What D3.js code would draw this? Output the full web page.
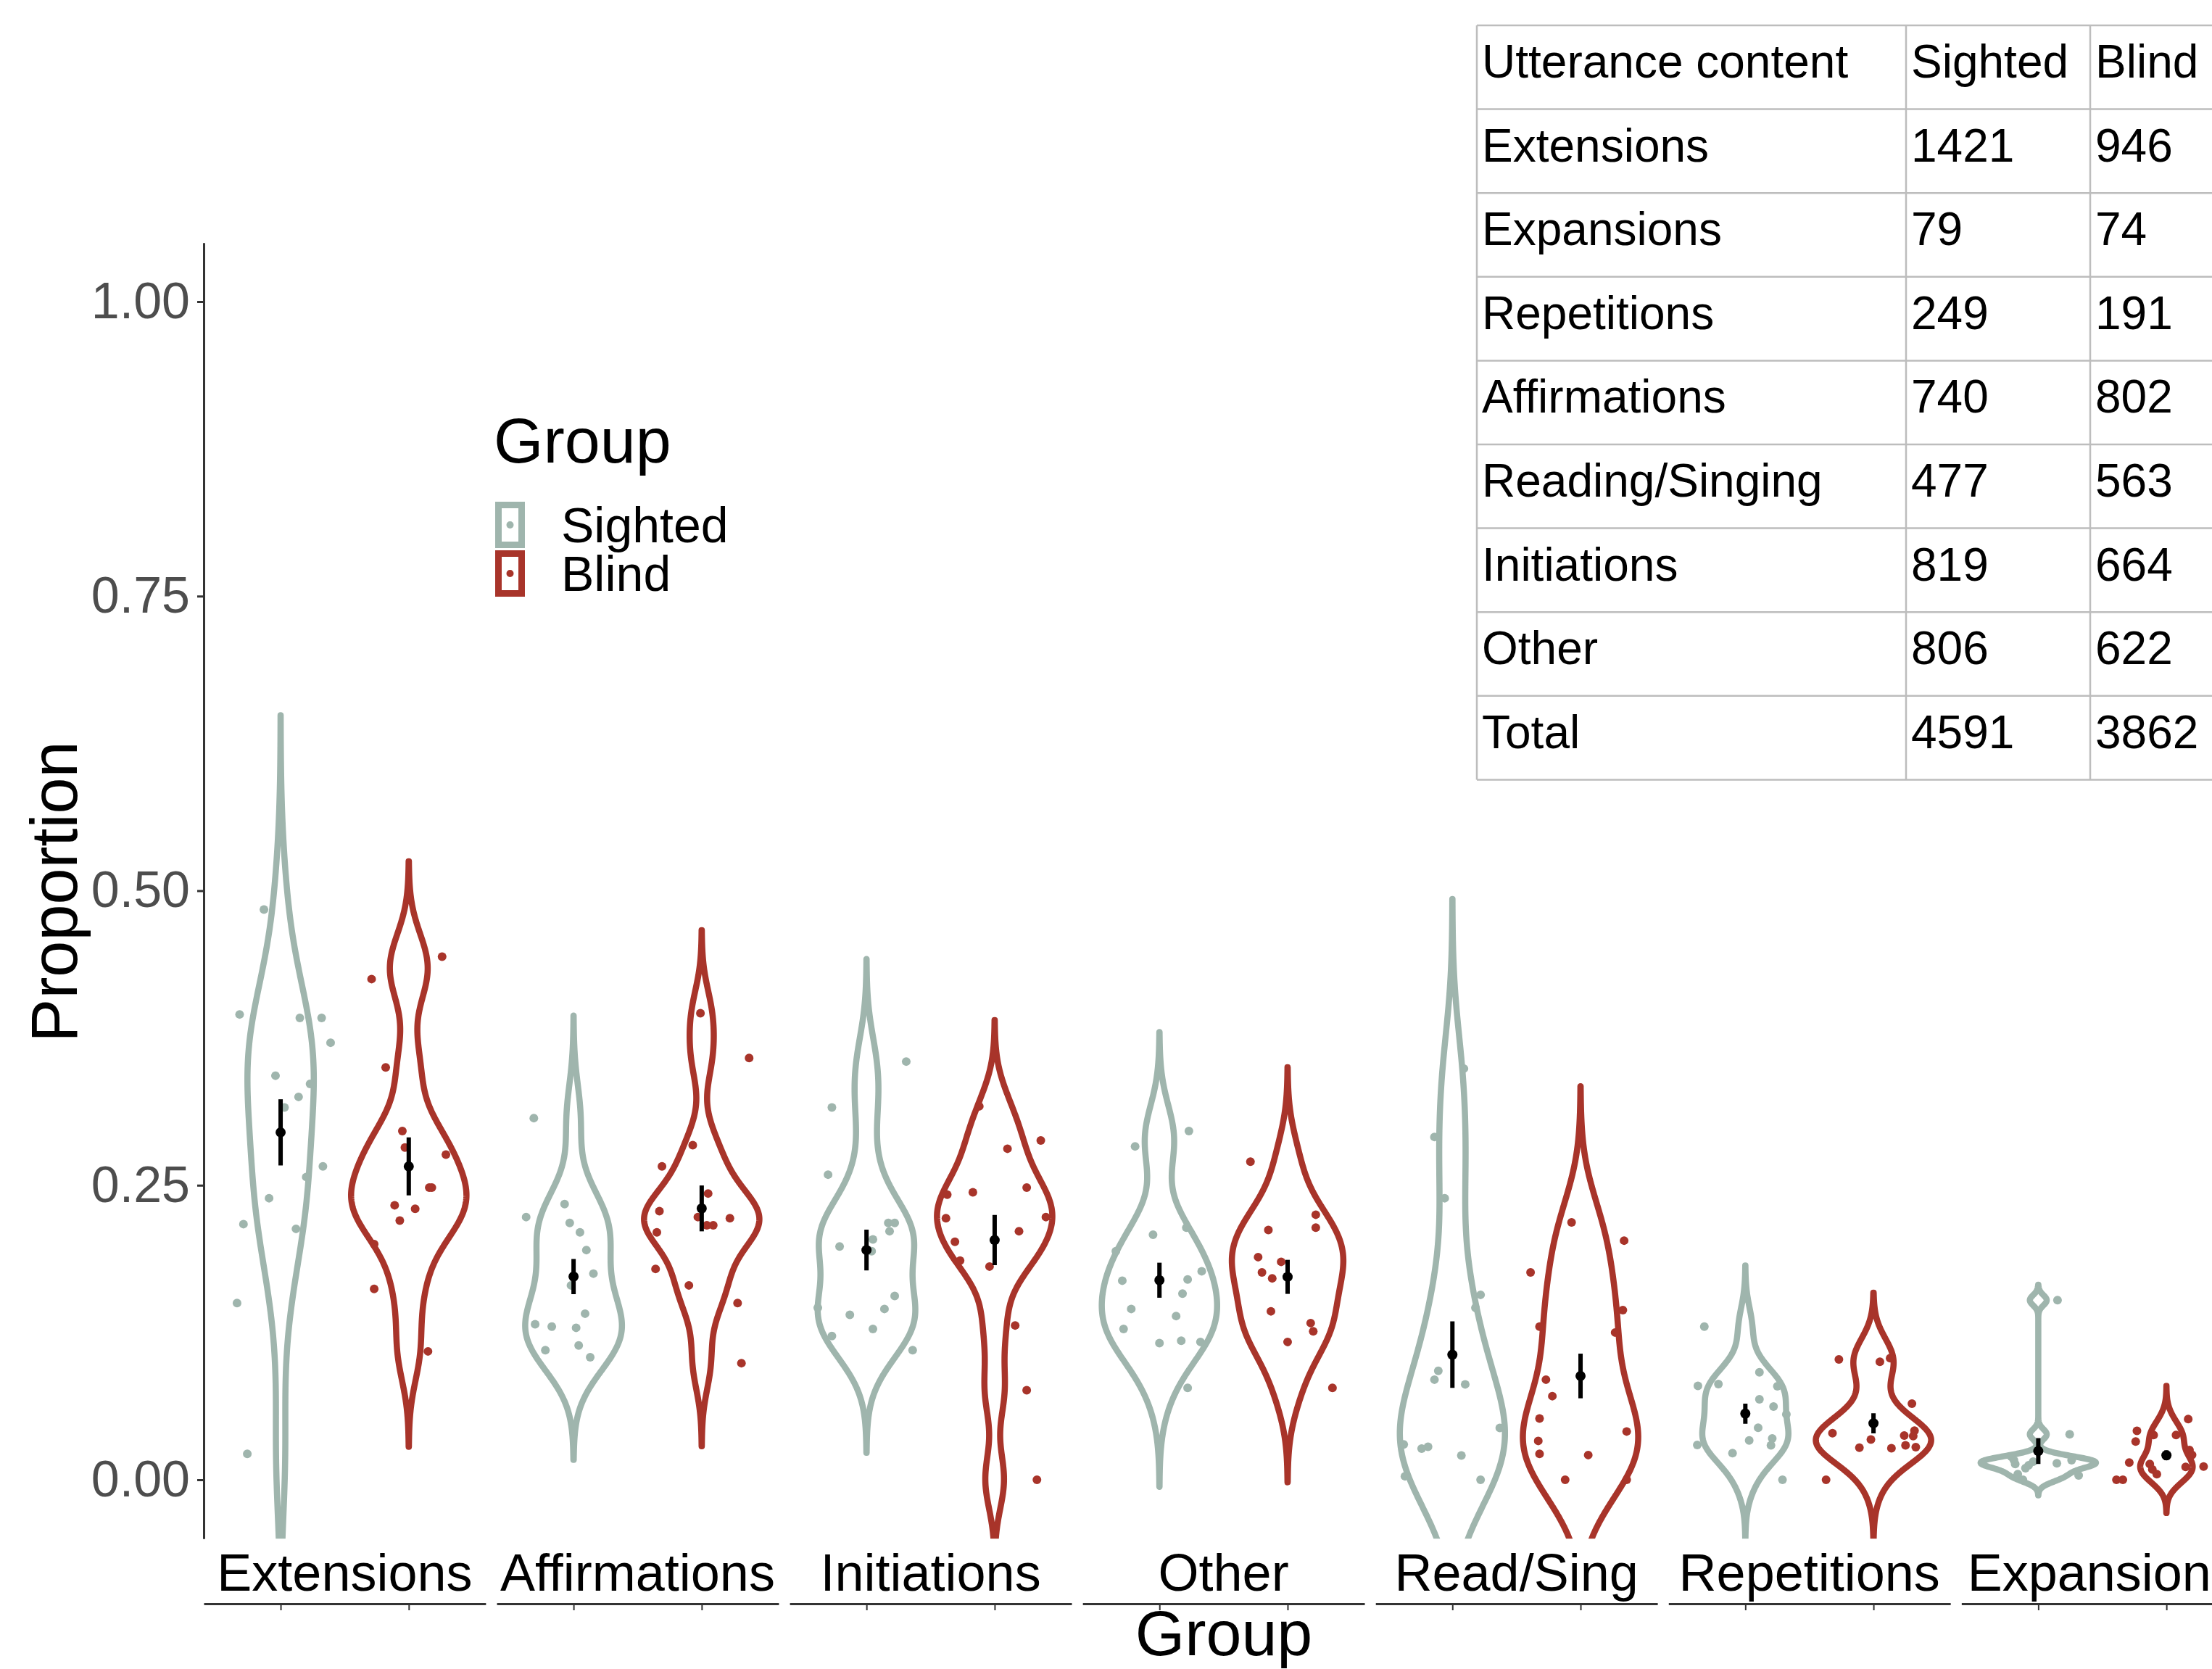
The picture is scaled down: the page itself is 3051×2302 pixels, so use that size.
<!DOCTYPE html>
<html>
<head>
<meta charset="utf-8">
<script src="https://cdn.jsdelivr.net/npm/d3@7"></script>
<style>
body { margin:0; background:#fff; }
text { font-family: "Liberation Sans", Arial, Helvetica, sans-serif; }
</style>
</head>
<body>
<div id="chart"></div>
<script>

// ---------- data ----------
var categories = ["Extensions","Affirmations","Initiations","Other","Read/Sing","Repetitions","Expansions"];
var groups = ["Sighted","Blind"];
var yTicks = [0, 0.25, 0.5, 0.75, 1];

// each child: [proportion, horizontal jitter in category units]
var sightedPoints = [
  [[0.484,-0.13],[0.395,-0.32],[0.392,0.15],[0.392,0.32],[0.371,0.39],[0.343,-0.04],[0.336,0.23],[0.325,0.14],[0.316,0.03],[0.266,0.33],[0.257,0.2],[0.239,-0.09],[0.217,-0.29],[0.213,0.12],[0.150,-0.34],[0.022,-0.26]],
  [[0.307,-0.31],[0.234,-0.07],[0.223,-0.37],[0.218,-0.03],[0.210,0.05],[0.195,0.10],[0.175,0.155],[0.165,-0.02],[0.141,0.09],[0.132,-0.30],[0.130,-0.17],[0.129,0.02],[0.114,0.04],[0.110,-0.22],[0.104,0.13]],
  [[0.355,0.31],[0.316,-0.27],[0.259,-0.30],[0.218,0.17],[0.218,0.22],[0.211,0.18],[0.204,0.05],[0.198,-0.21],[0.194,0.04],[0.156,0.22],[0.146,-0.38],[0.145,0.14],[0.140,-0.13],[0.128,0.05],[0.122,-0.27],[0.110,0.36]],
  [[0.296,0.23],[0.283,-0.19],[0.214,0.21],[0.208,-0.05],[0.194,-0.34],[0.177,0.33],[0.170,0.22],[0.169,-0.29],[0.158,0.18],[0.145,-0.22],[0.139,0.13],[0.128,-0.28],[0.118,0.17],[0.117,0.32],[0.116,0.0],[0.078,0.22]],
  [[0.349,0.09],[0.291,-0.14],[0.239,-0.06],[0.157,0.22],[0.146,0.18],[0.0925,-0.11],[0.085,-0.14],[0.081,0.10],[0.044,0.37],[0.030,-0.38],[0.028,-0.19],[0.0265,-0.24],[0.0206,0.07],[0.003,-0.37],[0.0,0.22]],
  [[0.130,-0.32],[0.0913,0.11],[0.0812,-0.21],[0.0797,-0.37],[0.0794,0.25],[0.0683,0.11],[0.0622,0.22],[0.0556,0.32],[0.0442,0.10],[0.0351,0.21],[0.0334,0.03],[0.0295,-0.375],[0.0293,0.20],[0.0226,-0.10],[0.0,0.29]],
  [[0.1524,0.15],[0.0386,0.245],[0.0195,-0.21],[0.0166,-0.19],[0.0166,0.26],[0.0154,-0.04],[0.014,0.145],[0.0134,-0.18],[0.0123,-0.075],[0.0098,-0.10],[0.0047,-0.16],[0.0037,0.315],[0.0,-0.12]]
];
var blindPoints = [
  [[0.444,0.26],[0.425,-0.29],[0.350,-0.18],[0.296,-0.05],[0.282,-0.03],[0.276,0.29],[0.248,0.16],[0.248,0.18],[0.233,-0.11],[0.230,0.05],[0.220,-0.07],[0.200,-0.27],[0.162,-0.27],[0.109,0.15]],
  [[0.396,-0.01],[0.358,0.37],[0.284,-0.07],[0.266,-0.31],[0.243,0.05],[0.228,-0.33],[0.223,-0.03],[0.222,0.22],[0.216,0.04],[0.216,0.09],[0.210,-0.35],[0.179,-0.36],[0.165,-0.10],[0.150,0.28],[0.099,0.31]],
  [[0.317,-0.12],[0.288,0.36],[0.281,0.10],[0.248,0.25],[0.244,-0.17],[0.242,-0.37],[0.223,0.40],[0.222,-0.38],[0.211,0.19],[0.202,-0.31],[0.186,-0.27],[0.181,-0.04],[0.131,0.16],[0.076,0.25],[0.0,0.33]],
  [[0.270,-0.29],[0.225,0.22],[0.214,0.22],[0.212,-0.15],[0.189,-0.23],[0.185,-0.05],[0.176,-0.20],[0.171,-0.12],[0.143,-0.13],[0.133,0.18],[0.126,0.20],[0.117,0.0],[0.078,0.35]],
  [[0.2185,-0.07],[0.203,0.34],[0.176,-0.39],[0.144,0.33],[0.130,-0.32],[0.125,0.27],[0.085,-0.27],[0.071,-0.22],[0.052,-0.32],[0.041,0.36],[0.033,-0.33],[0.022,-0.32],[0.021,0.06],[0.0,-0.12],[0.0,0.36]],
  [[0.1032,0.13],[0.1022,-0.27],[0.1001,0.05],[0.0646,0.30],[0.0417,0.32],[0.0396,-0.32],[0.0375,0.24],[0.0371,0.31],[0.0341,-0.02],[0.0293,0.25],[0.0277,0.33],[0.0273,-0.11],[0.0267,0.14],[0.0,-0.37]],
  [[0.0515,0.17],[0.0416,-0.23],[0.038,-0.10],[0.038,0.075],[0.0324,-0.24],[0.0252,0.18],[0.0211,0.20],[0.0146,-0.29],[0.0134,-0.13],[0.0113,0.29],[0.0109,0.15],[0.0088,-0.11],[0.0047,-0.075],[0.0,-0.39],[0.0,-0.34]]
];
// kernel bandwidths of the violins
var sightedBw = [0.055, 0.029, 0.029, 0.028, 0.048, 0.0173, 0.0044];
var blindBw   = [0.027, 0.0235, 0.0244, 0.0267, 0.0385, 0.0185, 0.0094];

// table
var tableHeader = ["Utterance content","Sighted","Blind"];
var tableContent = ["Extensions","Expansions","Repetitions","Affirmations","Reading/Singing","Initiations","Other","Total"];
var tableSighted = [1421, 79, 249, 740, 477, 819, 806, 4591];
var tableBlind = [946, 74, 191, 802, 563, 664, 622, 3862];

// ---------- setup ----------
var W = 3051, H = 2302;
var colors = { Sighted: "#9fb5ad", Blind: "#a8342a" };
var top_ = 334.75, bottom_ = 2122.25;

var svg = d3.select("#chart")
            .append("svg")
            .attr("width", W)
            .attr("height", H);

svg.append("rect").attr("width", W).attr("height", H).attr("fill", "#fff");

var y = d3.scaleLinear()
          .domain([-0.05, 1.05])
          .range([bottom_, top_]);

var facetX = d3.scaleBand()
               .domain(categories)
               .range([281, 3094.2])
               .paddingInner(0.0376)
               .paddingOuter(0);

var innerX = d3.scaleLinear()
               .domain([0.4, 2.6])
               .range([0, facetX.bandwidth()]);

var catW = innerX(1) - innerX(0);

function kde(values, bw) {
    var n = values.length,
        lo = d3.min(values) - 3 * bw,
        hi = d3.max(values) + 3 * bw;
    return d3.range(512).map(function(i) {
        var t = lo + (hi - lo) * i / 511;
        var s = d3.sum(values, function(v) { var u = (t - v) / bw; return Math.exp(-0.5 * u * u); });
        return [t, s / (n * bw * Math.sqrt(2 * Math.PI))];
    });
}

var line = d3.line();

// ---------- y axis ----------
var yAxis = d3.axisLeft(y)
              .tickValues(yTicks)
              .tickFormat(d3.format(".2f"))
              .tickSize(9)
              .tickSizeOuter(0)
              .tickPadding(10);

var yAxisGroup = svg.append("g")
                    .attr("transform", "translate(281,0)")
                    .call(yAxis);
yAxisGroup.select(".domain").attr("stroke", "#333").attr("stroke-width", 3);
yAxisGroup.selectAll(".tick line").attr("stroke", "#333").attr("stroke-width", 3);
yAxisGroup.selectAll(".tick text")
          .attr("font-size", 70)
          .attr("fill", "#4d4d4d")
          .attr("font-family", "Liberation Sans, Arial, sans-serif");

// ---------- facets ----------
categories.forEach(function(cat, i) {
    var g = svg.append("g")
               .attr("transform", "translate(" + facetX(cat) + ",0)");

    g.append("clipPath")
     .attr("id", "clip" + i)
     .append("rect")
     .attr("x", -5).attr("y", top_)
     .attr("width", facetX.bandwidth() + 10)
     .attr("height", bottom_ - top_);

    var sets = [sightedPoints[i], blindPoints[i]];
    var bws = [sightedBw[i], blindBw[i]];
    var dens = sets.map(function(s, k) { return kde(s.map(function(d) { return d[0]; }), bws[k]); });
    var maxD = d3.max(dens, function(dd) { return d3.max(dd, function(d) { return d[1]; }); });

    var plot = g.append("g").attr("clip-path", "url(#clip" + i + ")");

    groups.forEach(function(grp, k) {
        var cx = innerX(k + 1);
        var dd = dens[k];
        var right = dd.map(function(d) { return [cx + 0.45 * catW * d[1] / maxD, y(d[0])]; });
        var left = dd.slice().reverse().map(function(d) { return [cx - 0.45 * catW * d[1] / maxD, y(d[0])]; });

        plot.append("path")
            .attr("class", "violin " + grp)
            .attr("d", line(right.concat(left)) + "Z")
            .attr("fill", "none")
            .attr("stroke", colors[grp])
            .attr("stroke-width", 8.5)
            .attr("stroke-linejoin", "round");
    });

    groups.forEach(function(grp, k) {
        var cx = innerX(k + 1);
        plot.selectAll(".pt" + k)
            .data(sets[k])
            .enter()
            .append("circle")
            .attr("cx", function(d) { return innerX(k + 1 + d[1]); })
            .attr("cy", function(d) { return y(d[0]); })
            .attr("r", 6)
            .attr("fill", colors[grp]);

        // mean +/- standard error
        var vals = sets[k].map(function(d) { return d[0]; });
        var m = d3.mean(vals), se = d3.deviation(vals) / Math.sqrt(vals.length);
        plot.append("line")
            .attr("x1", cx).attr("x2", cx)
            .attr("y1", y(m - se)).attr("y2", y(m + se))
            .attr("stroke", "#000")
            .attr("stroke-width", 6);
        plot.append("circle")
            .attr("cx", cx).attr("cy", y(m))
            .attr("r", 7)
            .attr("fill", "#000");
    });

    // strip label
    g.append("text")
     .attr("x", facetX.bandwidth() / 2)
     .attr("y", 2194)
     .attr("text-anchor", "middle")
     .attr("font-size", 72)
     .attr("fill", "#000")
     .text(cat);

    // x axis under strip
    var xAxis = d3.axisBottom(innerX)
                  .tickValues([1, 2])
                  .tickFormat("")
                  .tickSize(9)
                  .tickSizeOuter(0);
    var xg = g.append("g")
              .attr("transform", "translate(0,2212)")
              .call(xAxis);
    xg.select(".domain").attr("stroke", "#333").attr("stroke-width", 3);
    xg.selectAll(".tick line").attr("stroke", "#333").attr("stroke-width", 2);
});

// ---------- axis titles ----------
svg.append("text")
   .attr("x", 1688)
   .attr("y", 2283)
   .attr("text-anchor", "middle")
   .attr("font-size", 88)
   .attr("fill", "#000")
   .text("Group");

svg.append("text")
   .attr("transform", "translate(106,1230) rotate(-90)")
   .attr("text-anchor", "middle")
   .attr("font-size", 90)
   .attr("fill", "#000")
   .text("Proportion");

// ---------- legend ----------
var legend = svg.append("g");
legend.append("text")
      .attr("x", 681)
      .attr("y", 638)
      .attr("font-size", 88)
      .attr("fill", "#000")
      .text("Group");

groups.forEach(function(grp, k) {
    var ky = 692 + k * 67;
    legend.append("rect")
          .attr("x", 687.5).attr("y", ky + 4.5)
          .attr("width", 32).attr("height", 55)
          .attr("fill", "#fff")
          .attr("stroke", colors[grp])
          .attr("stroke-width", 9);
    legend.append("circle")
          .attr("cx", 703.5).attr("cy", ky + 32)
          .attr("r", 5)
          .attr("fill", colors[grp]);
    legend.append("text")
          .attr("x", 774)
          .attr("y", ky + 56)
          .attr("font-size", 68)
          .attr("fill", "#000")
          .text(grp);
});

// ---------- table ----------
var colX = [2037, 2629, 2883, 3075];
var rowH = 115.6, tTop = 35;
var nRows = tableContent.length + 1;
var table = svg.append("g");

var rows = [tableHeader].concat(tableContent.map(function(c, i) { return [c, tableSighted[i], tableBlind[i]]; }));

d3.range(nRows + 1).forEach(function(r) {
    table.append("line")
         .attr("x1", colX[0]).attr("x2", colX[3])
         .attr("y1", tTop + r * rowH).attr("y2", tTop + r * rowH)
         .attr("stroke", "#bdbdbd").attr("stroke-width", 2.5);
});
colX.forEach(function(cx) {
    table.append("line")
         .attr("x1", cx).attr("x2", cx)
         .attr("y1", tTop).attr("y2", tTop + nRows * rowH)
         .attr("stroke", "#bdbdbd").attr("stroke-width", 2.5);
});

rows.forEach(function(row, r) {
    row.forEach(function(cell, c) {
        table.append("text")
             .attr("x", colX[c] + 7)
             .attr("y", tTop + r * rowH + 72)
             .attr("font-size", 64)
             .attr("fill", "#000")
             .text(cell);
    });
});

</script>
</body>
</html>
